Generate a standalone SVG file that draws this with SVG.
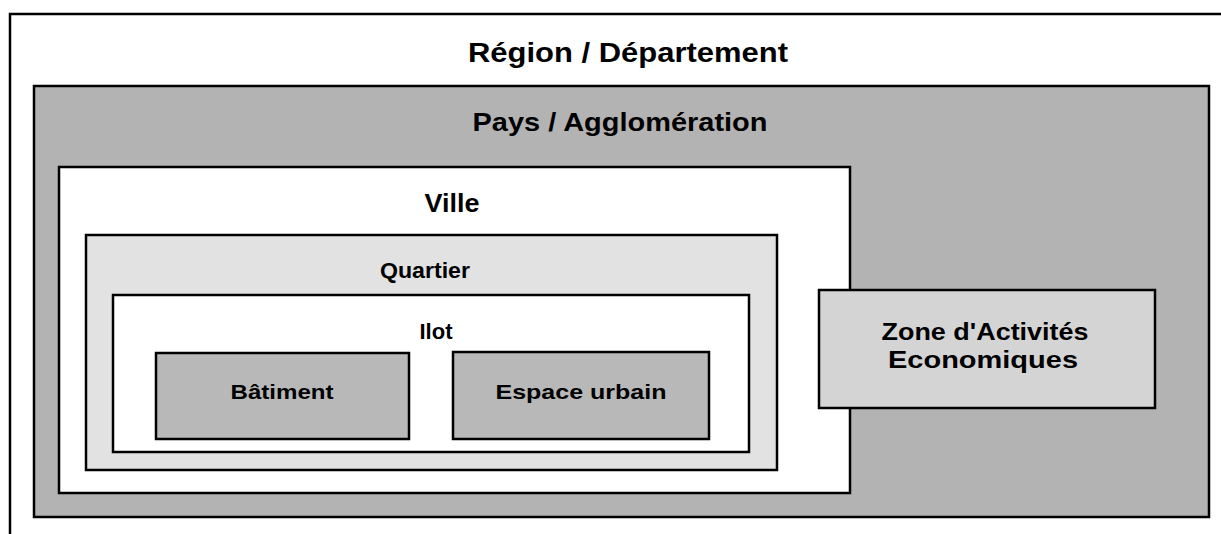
<svg xmlns="http://www.w3.org/2000/svg" width="1221" height="534" viewBox="0 0 1221 534">
<style>
  .box { stroke: #000; stroke-width: 2.5; }
  .lbl { font-family: "Liberation Sans", Arial, sans-serif; font-weight: bold; fill: #000; text-anchor: middle; }
</style>
<rect x="0" y="0" width="1221" height="534" fill="#fff"/>
<g id="region">
  <rect x="10" y="14" width="1230" height="540" fill="#fff" stroke="#000" stroke-width="2.5"/>
  <text class="lbl" x="628" y="62" font-size="27" textLength="320" lengthAdjust="spacingAndGlyphs">Région / Département</text>
</g>
<g id="pays">
  <rect class="box" x="34" y="86" width="1175" height="431" fill="#b3b3b3"/>
  <text class="lbl" x="620" y="131" font-size="26" textLength="295" lengthAdjust="spacingAndGlyphs">Pays / Agglomération</text>
</g>
<g id="ville">
  <rect class="box" x="59" y="167" width="791" height="326" fill="#fff"/>
  <text class="lbl" x="452" y="212" font-size="25" textLength="55" lengthAdjust="spacingAndGlyphs">Ville</text>
</g>
<g id="quartier">
  <rect class="box" x="86" y="235" width="691" height="235" fill="#e2e2e2"/>
  <text class="lbl" x="425" y="278" font-size="22" textLength="90" lengthAdjust="spacingAndGlyphs">Quartier</text>
</g>
<g id="ilot">
  <rect class="box" x="113" y="295" width="636" height="157" fill="#fff"/>
  <text class="lbl" x="436" y="339" font-size="22" textLength="33" lengthAdjust="spacingAndGlyphs">Ilot</text>
</g>
<g id="batiment">
  <rect class="box" x="156" y="353" width="253" height="86" fill="#b8b8b8"/>
  <text class="lbl" x="282" y="399" font-size="21" textLength="103" lengthAdjust="spacingAndGlyphs">Bâtiment</text>
</g>
<g id="espace">
  <rect class="box" x="453" y="352" width="256" height="87" fill="#b8b8b8"/>
  <text class="lbl" x="581" y="399" font-size="21" textLength="171" lengthAdjust="spacingAndGlyphs">Espace urbain</text>
</g>
<g id="zae">
  <rect class="box" x="819" y="290" width="336" height="118" fill="#d4d4d4"/>
  <text class="lbl" x="985" y="340" font-size="24" textLength="207" lengthAdjust="spacingAndGlyphs">Zone d'Activités</text>
  <text class="lbl" x="983" y="368" font-size="24" textLength="190" lengthAdjust="spacingAndGlyphs">Economiques</text>
</g>
<g id="connectors"/>
</svg>
